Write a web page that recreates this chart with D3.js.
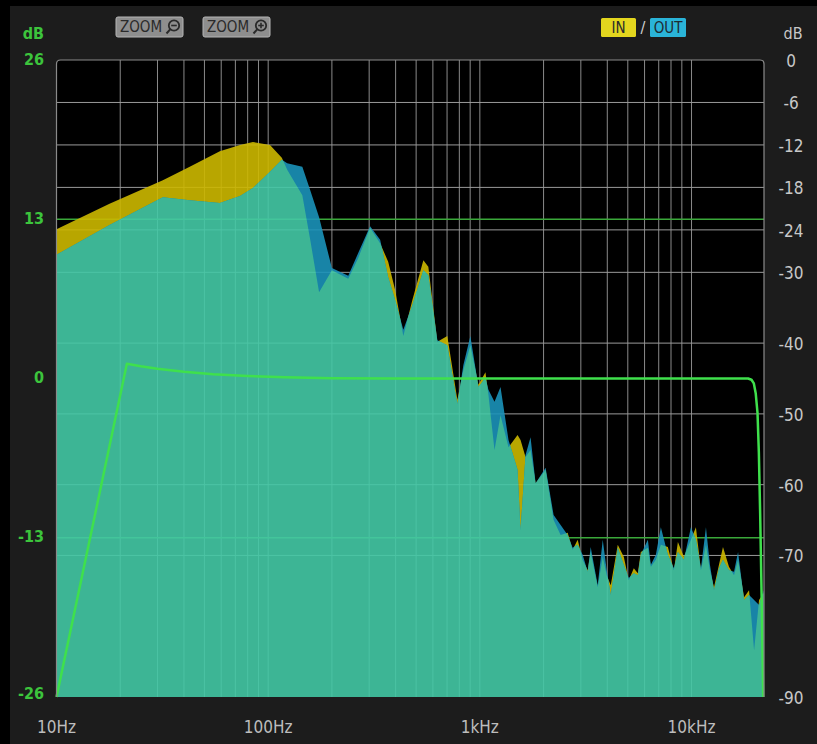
<!DOCTYPE html>
<html><head><meta charset="utf-8">
<script src="https://cdn.jsdelivr.net/npm/d3@7"></script>
<style>
html,body{margin:0;padding:0;background:#000;overflow:hidden;}
svg{display:block;}
text{font-stretch:condensed;}
</style></head><body>
<svg id="c" width="817" height="744"></svg>
<script>
// ---- data ----
const freqHz = [10,17.8,31.8,42.6,59.1,73.6,84.7,102,116,123,145,158,174,200,239,266,303,338,369,398,435,480,541,571,630,702,783,836,902,985,1063,1098,1173,1252,1366,1507,1557,1644,1736,1834,2045,2231,2408,2599,2744,2898,3060,3232,3339,3605,3807,3976,4154,4483,4786,5054,5337,5575,5760,6219,6425,6785,7164,7731,8254,8622,9204,9936,10490,11080,11700,12220,12770,13480,14080,15030,15880,16590,17710,18700,19750,20850,21900];
const inDb = [-23.9,-20.3,-17.0,-15.1,-12.9,-12.0,-11.6,-12.0,-13.8,-15.5,-19.1,-25.4,-32.8,-29.7,-30.9,-28.0,-23.7,-25.9,-28.5,-32.5,-39.0,-33.9,-28.3,-29.2,-39.8,-39.0,-48.0,-43.8,-40.3,-45.9,-44.1,-47.3,-55.1,-50.2,-54.7,-53.0,-53.7,-56.1,-55.1,-59.8,-57.9,-65.0,-67.1,-66.8,-69.2,-67.8,-70.6,-72.1,-69.5,-74.5,-70.2,-72.8,-74.2,-68.5,-70.2,-73.5,-71.8,-72.5,-69.5,-68.9,-71.6,-70.6,-68.5,-68.8,-72.1,-68.1,-70.2,-67.8,-66.0,-72.1,-68.5,-72.1,-74.5,-71.3,-68.8,-71.6,-72.8,-70.6,-75.9,-74.9,-83.4,-76.3,-75.3];
const outDb = [-27.5,-23.3,-19.4,-19.8,-20.2,-19.2,-18.1,-15.8,-14.1,-14.6,-15.1,-18.4,-22.2,-29.4,-30.5,-27.3,-23.5,-25.4,-30.7,-33.9,-38.1,-34.6,-29.7,-30.4,-39.6,-40.3,-48.6,-43.1,-39.0,-46.2,-44.9,-46.6,-48.3,-46.2,-53.7,-57.9,-66.4,-55.8,-53.3,-59.8,-57.6,-64.3,-65.7,-67.1,-68.9,-68.5,-69.9,-72.3,-68.8,-74.2,-67.8,-72.1,-75.6,-68.9,-71.3,-73.2,-72.5,-72.8,-69.9,-67.8,-71.3,-69.9,-66.0,-69.9,-71.8,-69.5,-70.6,-66.0,-67.8,-71.8,-66.0,-71.3,-74.9,-71.8,-70.6,-72.1,-72.3,-69.5,-76.3,-75.6,-76.3,-77.0,-74.9];
const filterHz = [10,21.5,25,30,40,55,80,120,200,400,1000,10000,18500,19200,19700,20100,20500,20800,21100,21500,21800];
const filterGain = [-26,1.2,1.0,0.8,0.55,0.35,0.2,0.1,0.03,0,0,0,0,-0.1,-0.4,-1.2,-2.8,-6,-11,-19,-26];
const leftTicks = [26,13,0,-13,-26];
const leftGreenLines = [13,-13];
const rightTicks = [0,-6,-12,-18,-24,-30,-40,-50,-60,-70,-90];
const freqTicks = [10,100,1000,10000];
const freqLabels = ["10Hz","100Hz","1kHz","10kHz"];
const gridMultipliers = [2,3,4,5,6,7,8,9,10];
const gridDecades = [10,100,1000];

// ---- layout ----
const L = 56.5, R = 764, T = 60, B = 697;
const svg = d3.select("#c");
const FONT = "'DejaVu Sans Condensed','Liberation Sans Narrow','DejaVu Sans',sans-serif";

const x = d3.scaleLog().domain([10, 22000]).range([L, R]);
const yR = d3.scaleLinear().domain([0, -90]).range([T, B]);
const yL = d3.scaleLinear().domain([26, -26]).range([T, B]);

// panel background
svg.append("rect").attr("x",0).attr("y",0).attr("width",817).attr("height",744).attr("fill","#000");
svg.append("rect").attr("x",10).attr("y",6).attr("width",807).attr("height",738).attr("fill","#1c1c1c");

// plot background
svg.append("rect").attr("x",L).attr("y",T).attr("width",R-L).attr("height",B-T).attr("rx",4).attr("fill","#000");

// grid
const gridF = [];
gridDecades.forEach(d => gridMultipliers.forEach(m => gridF.push(d*m)));
const grid = svg.append("g");
grid.selectAll("line.v").data(gridF).join("line")
  .attr("x1", d => x(d)).attr("x2", d => x(d)).attr("y1", T).attr("y2", B)
  .attr("stroke", "#8a8a8a").attr("stroke-width", 1);
grid.selectAll("line.h").data(rightTicks.filter(d => d!==0 && d!==-90)).join("line")
  .attr("x1", L).attr("x2", R).attr("y1", d => yR(d)).attr("y2", d => yR(d))
  .attr("stroke", "#9a9a9a").attr("stroke-width", 1);
grid.selectAll("line.g").data(leftGreenLines).join("line")
  .attr("x1", L).attr("x2", R).attr("y1", d => yL(d)).attr("y2", d => yL(d))
  .attr("stroke", "#3aa83a").attr("stroke-width", 1.6);

// spectra
const inPts = freqHz.map((f,i) => ({f, v: inDb[i]}));
const outPts = freqHz.map((f,i) => ({f, v: outDb[i]}));
const area = d3.area().x(d => x(d.f)).y0(B).y1(d => yR(d.v));

const defs = svg.append("defs");
defs.append("clipPath").attr("id","outClip").append("path").attr("d", area(outPts));

const fills = svg.append("g").attr("opacity", 0.9);
fills.append("path").attr("d", area(inPts)).attr("fill", "#cdb800");
fills.append("path").attr("d", area(outPts)).attr("fill", "#1b93ba");
fills.append("path").attr("d", area(inPts)).attr("fill", "#44c9a6").attr("clip-path","url(#outClip)");

// filter curve
const fPts = filterHz.map((f,i) => ({f, g: filterGain[i]}));
svg.append("path")
  .attr("d", d3.line().x(d => x(d.f)).y(d => yL(d.g))(fPts))
  .attr("fill","none").attr("stroke","#3fe04c").attr("stroke-width",2.5).attr("stroke-linejoin","round");

// frame
svg.append("path")
  .attr("d", `M${L},${B} L${L},${T+4} Q${L},${T} ${L+4},${T} L${R-4},${T} Q${R},${T} ${R},${T+4} L${R},${B}`)
  .attr("fill","none").attr("stroke","#8a8a8a").attr("stroke-width",1.2);

// left axis labels
svg.append("text").attr("x",44).attr("y",34).attr("text-anchor","end").attr("dominant-baseline","middle")
  .attr("font-family",FONT).attr("font-size",16).attr("font-weight","bold").attr("fill","#3cc43c").text("dB");
svg.selectAll("text.l").data(leftTicks).join("text")
  .attr("x",44).attr("y", d => yL(d) + (d===-26 ? -3 : 0)).attr("text-anchor","end").attr("dominant-baseline","middle")
  .attr("font-family",FONT).attr("font-size",16).attr("font-weight","bold").attr("fill","#3cc43c").text(d => d);

// right axis labels
svg.append("text").attr("x",793).attr("y",34).attr("text-anchor","middle").attr("dominant-baseline","middle")
  .attr("font-family",FONT).attr("font-size",16).attr("fill","#c8c8c8").text("dB");
svg.selectAll("text.r").data(rightTicks).join("text")
  .attr("x",791).attr("y", d => yR(d) + 2).attr("text-anchor","middle").attr("dominant-baseline","middle")
  .attr("font-family",FONT).attr("font-size",17).attr("fill","#c8c8c8").text(d => d);

// bottom labels
svg.selectAll("text.b").data(freqTicks).join("text")
  .attr("x", d => x(d)).attr("y", 728).attr("text-anchor","middle").attr("dominant-baseline","middle")
  .attr("font-family",FONT).attr("font-size",17).attr("fill","#bdbdbd").text((d,i) => freqLabels[i]);

// header buttons
function zoomBtn(x0, plus){
  const g = svg.append("g");
  g.append("rect").attr("x",x0).attr("y",17).attr("width",67).attr("height",20).attr("rx",2)
    .attr("fill","#8e8e8e").attr("stroke","#b5b5b5").attr("stroke-width",1);
  g.append("text").attr("x",x0+4).attr("y",27.5).attr("dominant-baseline","middle")
    .attr("font-family",FONT).attr("font-size",15).attr("fill","#2a2a2a").text("ZOOM");
  const cx = x0+58, cy = 25.5;
  g.append("circle").attr("cx",cx).attr("cy",cy).attr("r",5.2).attr("fill","none").attr("stroke","#2a2a2a").attr("stroke-width",1.8);
  g.append("line").attr("x1",cx-3.6).attr("x2",cx-7.5).attr("y1",cy+3.6).attr("y2",cy+8).attr("stroke","#2a2a2a").attr("stroke-width",2);
  g.append("line").attr("x1",cx-2.8).attr("x2",cx+2.8).attr("y1",cy).attr("y2",cy).attr("stroke","#2a2a2a").attr("stroke-width",1.6);
  if (plus) g.append("line").attr("x1",cx).attr("x2",cx).attr("y1",cy-2.8).attr("y2",cy+2.8).attr("stroke","#2a2a2a").attr("stroke-width",1.6);
}
zoomBtn(116,false);
zoomBtn(203,true);

svg.append("rect").attr("x",601).attr("y",18).attr("width",35).attr("height",19).attr("rx",1.5).attr("fill","#e3d61e");
svg.append("text").attr("x",618.5).attr("y",28).attr("text-anchor","middle").attr("dominant-baseline","middle")
  .attr("font-family",FONT).attr("font-size",15).attr("fill","#2a2a2a").text("IN");
svg.append("text").attr("x",643).attr("y",28).attr("text-anchor","middle").attr("dominant-baseline","middle")
  .attr("font-family",FONT).attr("font-size",16).attr("fill","#cfcfcf").text("/");
svg.append("rect").attr("x",650).attr("y",18).attr("width",36).attr("height",19).attr("rx",1.5).attr("fill","#2ab4d8");
svg.append("text").attr("x",668).attr("y",28).attr("text-anchor","middle").attr("dominant-baseline","middle")
  .attr("font-family",FONT).attr("font-size",15).attr("fill","#1e2a30").text("OUT");
</script>
</body></html>
